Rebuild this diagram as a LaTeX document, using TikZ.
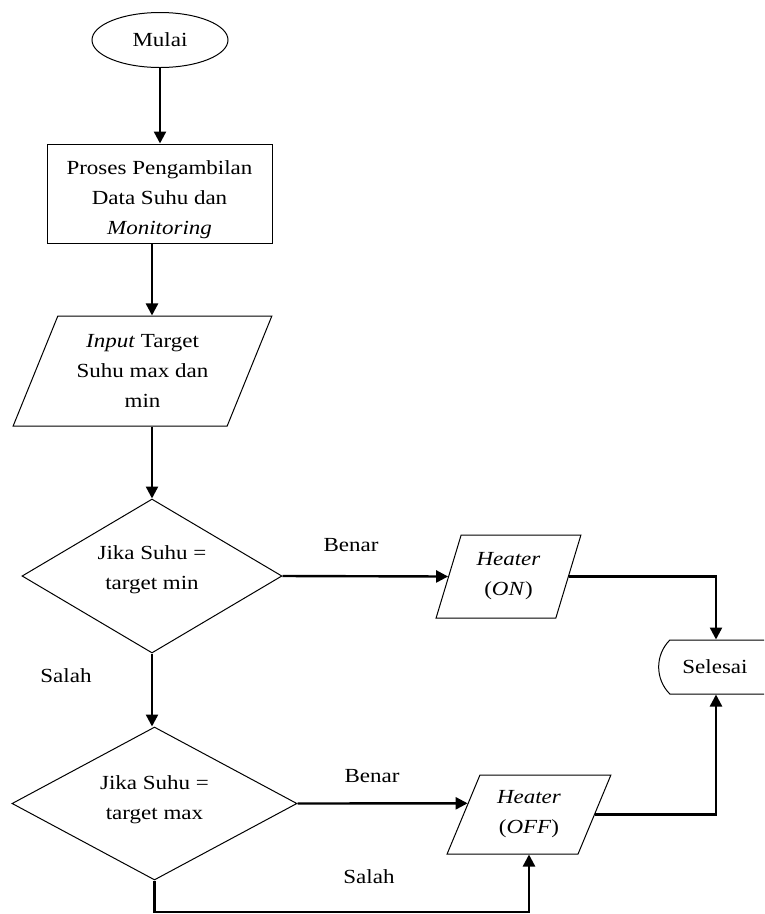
\documentclass[tikz,border=0pt]{standalone}
\usepackage{fontspec}
\setmainfont{Liberation Serif}[FakeStretch=1.15]
\usetikzlibrary{shapes.geometric,shapes.misc,arrows.meta,calc}
\begin{document}
\begin{tikzpicture}[x=1pt,y=-1pt,
  every node/.style={font=\fontsize{20}{30}\selectfont, inner sep=2pt},
  shapebox/.style={draw, line width=1pt, align=center},
  para/.style={shapebox, trapezium, trapezium stretches=true},
  arr/.style={line width=2.4pt, -{Triangle[length=12pt,width=12pt]}},
]
\useasboundingbox (0,0) rectangle (764,914);
\clip (0,0) rectangle (764,914);

% shapes
\node[shapebox, ellipse, minimum width=136pt, minimum height=55pt, inner sep=0pt] (mulai) at (160,40) {Mulai};
\node[shapebox, rectangle, minimum width=225pt, minimum height=99pt] (proses) at (159.5,193.5)
  {\rule{0pt}{26pt}Proses Pengambilan\\Data Suhu dan\\\textit{Monitoring}};
\node[para, trapezium left angle=65.1, trapezium right angle=114.9,
  minimum width=259pt, minimum height=110pt] (input) at (142.5,371)
  {\textit{Input} Target\\Suhu max dan\\min};
\node[shapebox, diamond, shape aspect=1.69, minimum width=260pt, minimum height=154pt, inner sep=0pt] (d1) at (152,576)
  {Jika Suhu =\\target min\rule[-17pt]{0pt}{17pt}};
\node[para, trapezium left angle=70.7, trapezium right angle=109.3,
  minimum width=145pt, minimum height=83pt] (on) at (508.5,576.5)
  {\textit{Heater}\\(\textit{ON})};
\node[shapebox, rounded rectangle, rounded rectangle east arc=none,
  rounded rectangle arc length=90, minimum width=140pt, minimum height=54pt] (selesai) at (727,667)
  {Selesai\hspace{24pt}};
\node[shapebox, diamond, shape aspect=1.86, minimum width=285pt, minimum height=153pt, inner sep=0pt] (d2) at (154.5,803.5)
  {Jika Suhu =\\target max\rule[-11pt]{0pt}{11pt}};
\node[para, trapezium left angle=66.1, trapezium right angle=113.9,
  minimum width=164pt, minimum height=79pt] (off) at (529,814.5)
  {\textit{Heater}\\(\textit{OFF})};

% labels
\node[anchor=base] (benar1) at (351,551) {Benar};
\node[anchor=base] (salah1) at (66,682) {Salah};
\node[anchor=base] (benar2) at (372,782) {Benar};
\node[anchor=base] (salah2) at (369,883) {Salah};

% helper coordinates
\coordinate (k1) at (716,576.5);
\coordinate (k2) at (716,814.5);
\coordinate (b1) at (154.5,912);
\coordinate (b2) at (529,912);

% connectors
\draw[arr] (mulai.south) -- (mulai.south |- proses.north);
\draw[arr] (proses.south -| d1.north) -- (input.north -| d1.north);
\draw[arr] (input.south -| d1.north) -- (d1.north);
\draw[arr] (d1.east) -- (on.left side);
\draw[arr] (on.right side) -- (k1) -- (k1 |- selesai.north);
\draw[arr] (d1.south) -- (d1.south |- d2.north);
\draw[arr] (d2.east) -- ($(off.bottom left corner)!0.64!(off.top left corner)$);
\draw[arr] (off.right side) -- (k2) -- (k2 |- selesai.south);
\draw[arr] (d2.south) -- (b1) -- (b2) -- (b2 |- off.bottom side);
\end{tikzpicture}
\end{document}
